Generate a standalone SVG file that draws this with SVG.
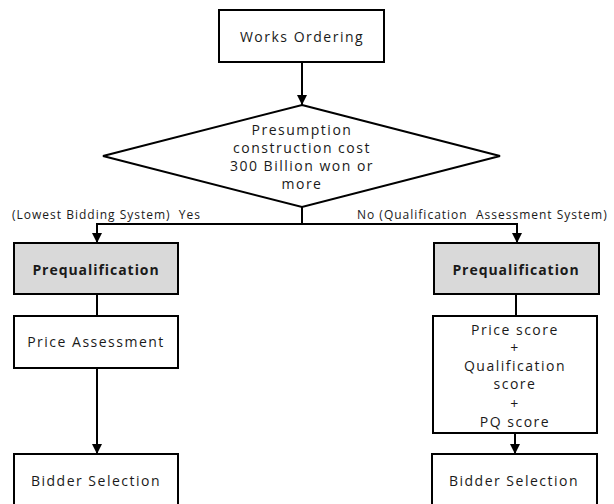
<svg xmlns="http://www.w3.org/2000/svg" width="614" height="504" viewBox="0 0 614 504">
<style>
.box{fill:#ffffff;stroke:#000;stroke-width:2}
.gray{fill:#d9d9d9;stroke:#000;stroke-width:2}
.t{font-family:"Open Sans","Noto Sans",sans-serif;font-size:14px;fill:#1a1a1a;text-anchor:middle;letter-spacing:1.5px}
.b{font-weight:bold;letter-spacing:0.95px}
.lbl{font-family:"Open Sans","Noto Sans",sans-serif;font-size:12px;fill:#1a1a1a;letter-spacing:1px;white-space:pre}
.c{fill:none;stroke:#000;stroke-width:2}
</style>
<defs>
<marker id="ah" viewBox="0 0 10 10" refX="10" refY="5" markerWidth="5" markerHeight="5" orient="auto" markerUnits="strokeWidth">
<path d="M0,0 L10,5 L0,10 Z" fill="#000"/>
</marker>
</defs>
<g id="connectors">
<path class="c" d="M302,62 V105" marker-end="url(#ah)"/>
<path class="c" d="M302,207 V224"/>
<path class="c" d="M96,224 H517"/>
<path class="c" d="M97,223 V243" marker-end="url(#ah)"/>
<path class="c" d="M517,223 V243" marker-end="url(#ah)"/>
<path class="c" d="M97,294 V316"/>
<path class="c" d="M516,294 V316"/>
<path class="c" d="M97,368 V454" marker-end="url(#ah)"/>
<path class="c" d="M515,433 V454" marker-end="url(#ah)"/>
</g>
<g id="labels">
<text class="lbl" x="12" y="219">(Lowest Bidding System)  Yes</text>
<text class="lbl" x="357" y="219">No (Qualification  Assessment System)</text>
</g>
<g id="works-ordering">
<rect class="box" x="219" y="10" width="165" height="52"/>
<text class="t" x="302" y="42">Works Ordering</text>
</g>
<g id="decision">
<polygon class="box" points="302,105 500,156 302,207 103,156"/>
<text class="t" x="302" y="135">Presumption</text>
<text class="t" x="302" y="153">construction cost</text>
<text class="t" x="302" y="171">300 Billion won or</text>
<text class="t" x="302" y="189">more</text>
</g>
<g id="prequal-left">
<rect class="gray" x="14" y="243" width="164" height="51"/>
<text class="t b" x="96" y="275">Prequalification</text>
</g>
<g id="prequal-right">
<rect class="gray" x="434" y="243" width="165" height="51"/>
<text class="t b" x="516" y="275">Prequalification</text>
</g>
<g id="price-assessment">
<rect class="box" x="14" y="316" width="164" height="52"/>
<text class="t" x="96" y="347">Price Assessment</text>
</g>
<g id="score">
<rect class="box" x="433" y="316" width="164" height="117"/>
<text class="t" x="515" y="335">Price score</text>
<text class="t" x="515" y="353">+</text>
<text class="t" x="515" y="371">Qualification</text>
<text class="t" x="515" y="389">score</text>
<text class="t" x="515" y="409">+</text>
<text class="t" x="515" y="427">PQ score</text>
</g>
<g id="bidder-left">
<rect class="box" x="14" y="454" width="164" height="60"/>
<text class="t" x="96" y="486">Bidder Selection</text>
</g>
<g id="bidder-right">
<rect class="box" x="432" y="454" width="165" height="60"/>
<text class="t" x="514" y="486">Bidder Selection</text>
</g>
</svg>
